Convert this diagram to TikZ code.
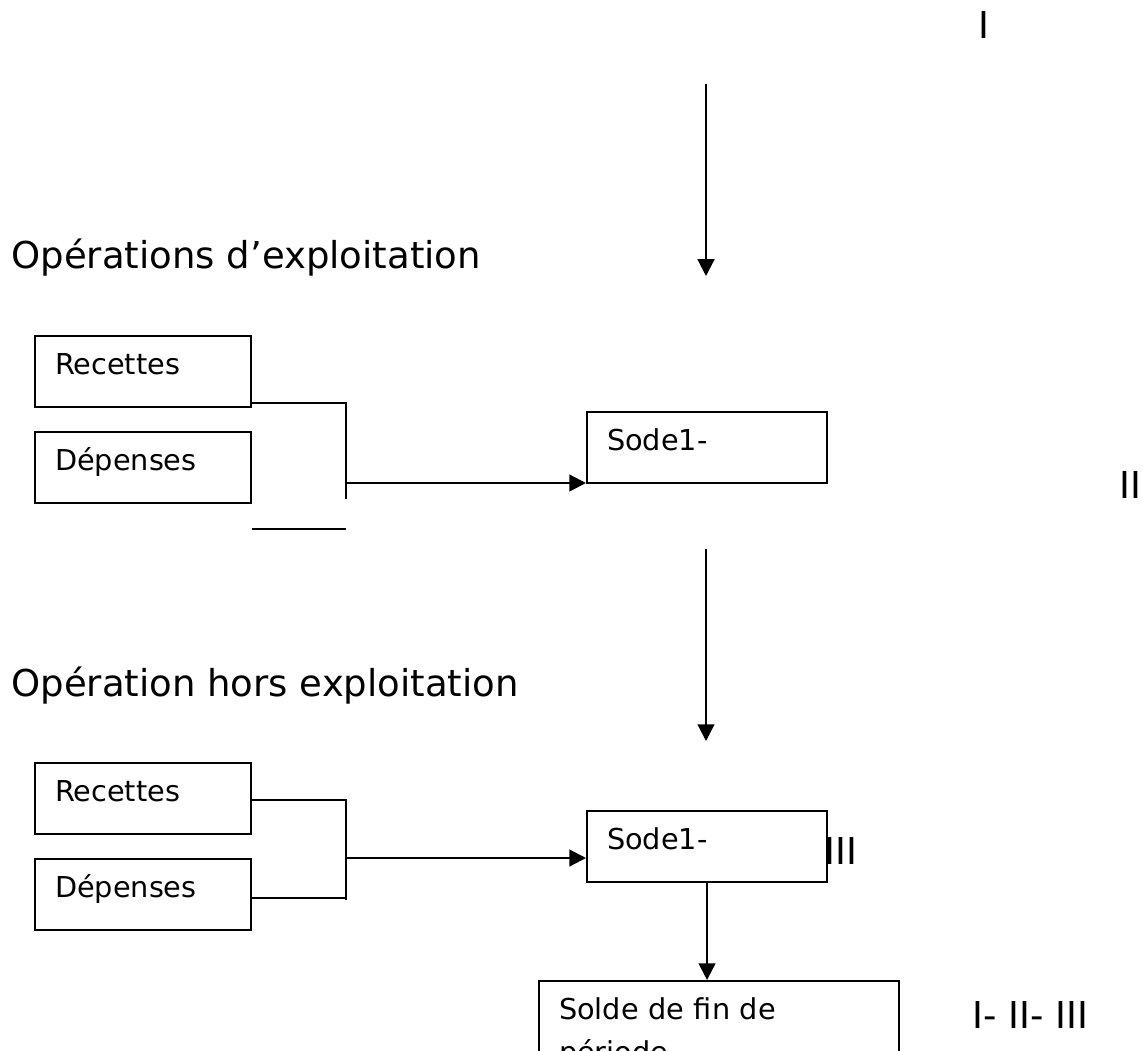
\documentclass[tikz,border=0pt]{standalone}
\usepackage{fontspec}
\setmainfont{DejaVu Sans}
\usetikzlibrary{arrows.meta,calc,positioning}
\newcommand{\bigtxt}{\fontsize{21}{25}\selectfont}
\newcommand{\smalltxt}{\fontsize{16.3}{21}\selectfont}

\begin{document}
\begin{tikzpicture}[x=0.567pt, y=-0.567pt,
		box/.style={draw, line width=1.25pt, anchor=north west, inner xsep=11.3pt, inner ysep=0pt,
			text width=#1, text height=22pt, text depth=18.2pt, align=left, font=\smalltxt}]
		\tikzstyle{every node}=[font=\bigtxt, inner sep=0pt]
		\tikzstyle{wire}=[line width=1.25pt]
		\tikzstyle{arr}=[line width=1.25pt, -{Triangle[length=9.5pt, width=9.5pt]}]
		\tikzstyle{lbl}=[anchor=base west]
		\useasboundingbox (0,0) rectangle (1143,1051);
		\clip (0,0) rectangle (1143,1051);
		\fill [white] (0,0) rectangle (1143,1051);
		% titres et niveaux
		\node [lbl] (niv1) at (978,39) {I};
		\node [lbl] (opexp) at (11,269) {Opérations d’exploitation};
		\node [lbl] (niv2) at (1119,498) {II};
		\node [lbl] (ophors) at (11,696) {Opération hors exploitation};
		\node [lbl] (niv3) at (824,864) {III};
		\node [lbl] (niv123) at (972,1028) {I- II- III};
		% cases
		\node [box=99.8pt] (rec1) at (34,335) {Recettes};
		\node [box=99.8pt] (dep1) at (34,431) {Dépenses};
		\node [box=113.4pt] (sode1) at (586,411) {Sode1-};
		\node [box=99.8pt] (rec2) at (34,762) {Recettes};
		\node [box=99.8pt] (dep2) at (34,858) {Dépenses};
		\node [box=113.4pt] (sode2) at (586,810) {Sode1-};
		\node [box=181.4pt] (solde) at (538,980) {Solde de fin de\\[3pt]période};
		% points de jonction
		\coordinate (a1s) at (706,84);
		\coordinate (a1e) at (706,276);
		\coordinate (a2s) at (706,549);
		\coordinate (a2e) at (706,741);
		\coordinate (j1top) at (346,403);
		\coordinate (j1bot) at (346,499);
		\coordinate (j1mid) at (346,483);
		\coordinate (j1low) at (346,529);
		\coordinate (j2top) at (346,800);
		\coordinate (j2bot) at (346,900);
		\coordinate (j2mid) at (346,858);
		\coordinate (j2low) at (346,898);
		% liaisons
		\draw [arr] (a1s) -- (a1e);
		\draw [arr] (a2s) -- (a2e);
		\draw [wire] (rec1.east |- j1top) -- (j1top) -- (j1bot);
		\draw [wire] (dep1.east |- j1low) -- (j1low);
		\draw [arr] (j1mid) -- (j1mid -| sode1.west);
		\draw [wire] (rec2.east |- j2top) -- (j2top) -- (j2bot);
		\draw [wire] (dep2.east |- j2low) -- (j2low);
		\draw [arr] (j2mid) -- (j2mid -| sode2.west);
		\draw [arr] (sode2.south) -- (sode2.south |- solde.north);
	\end{tikzpicture}
\end{document}
